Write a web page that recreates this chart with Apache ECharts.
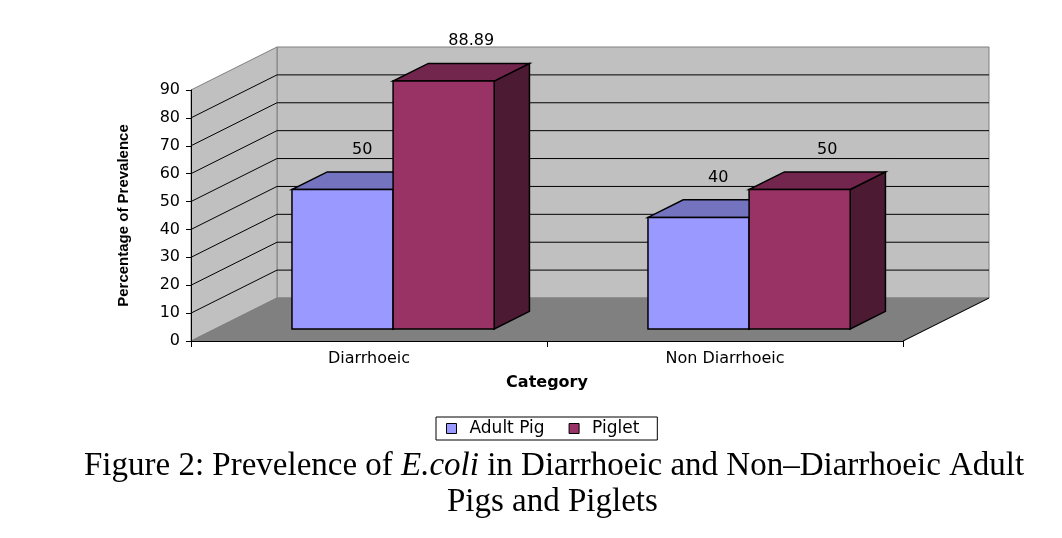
<!DOCTYPE html>
<html>
<head>
<meta charset="utf-8">
<script src="https://cdn.jsdelivr.net/npm/echarts@6/dist/echarts.min.js"></script>
<style>
  html, body { margin: 0; padding: 0; background: #fff; }
  #chart { width: 1062px; height: 538px; }
</style>
</head>
<body>
<div id="chart"></div>
<script>
// data
const categories = ['Diarrhoeic', 'Non Diarrhoeic'];
const adultPig = [50, 40];
const piglet = [88.89, 50];
const seriesNames = ['Adult Pig', 'Piglet'];
const yMin = 0, yMax = 90, yStep = 10;

// 3D look: depth of floor, and where the bars sit inside it
const DX = 86, DY = -43;
const F0 = 0.28, F1 = 0.69;
const faceColors = [
  ['#9999ff', '#7373bf', '#4d4d80'],   // front, top, side
  ['#993366', '#73264d', '#4d1a33']
];
const labelShift = [2, 10];
const SANS = '"DejaVu Sans"';

const chart = echarts.init(document.getElementById('chart'));

// back wall, side wall, floor and gridlines
function renderWalls(params, api) {
  const cs = params.coordSys;
  const left = cs.x, right = cs.x + cs.width;
  const y0 = api.coord([0, yMin])[1];
  const yTop = api.coord([0, yMax])[1];
  const kids = [];
  kids.push({ type: 'rect', shape: { x: left + DX, y: yTop + DY, width: right - left, height: y0 - yTop },
    style: { fill: '#c0c0c0', stroke: '#808080', lineWidth: 1 } });
  kids.push({ type: 'polygon', shape: { points: [[left, y0], [left, yTop], [left + DX, yTop + DY], [left + DX, y0 + DY]] },
    style: { fill: '#c0c0c0', stroke: '#808080', lineWidth: 1 } });
  for (let v = yMin + yStep; v < yMax; v += yStep) {
    const y = api.coord([0, v])[1];
    kids.push({ type: 'line', shape: { x1: left, y1: y, x2: left + DX, y2: y + DY }, style: { stroke: '#000', lineWidth: 1 } });
    kids.push({ type: 'line', shape: { x1: left + DX, y1: y + DY, x2: right + DX, y2: y + DY }, style: { stroke: '#000', lineWidth: 1 } });
  }
  kids.push({ type: 'polygon', shape: { points: [[left, y0], [right, y0], [right + DX, y0 + DY], [left + DX, y0 + DY]] },
    style: { fill: '#808080', stroke: '#808080', lineWidth: 1 } });
  kids.push({ type: 'line', shape: { x1: right, y1: y0, x2: right + DX, y2: y0 + DY }, style: { stroke: '#000', lineWidth: 1 } });
  return { type: 'group', children: kids };
}

// one 3D box per value
function barRenderer(idx) {
  return function (params, api) {
    const cat = api.value(0), val = api.value(1);
    const w = api.size([1, 0])[0] * 0.284;
    const base = api.coord([cat, 0]);
    const top = api.coord([cat, val]);
    const xl = base[0] - w + idx * w + F0 * DX;
    const xr = xl + w;
    const yb = base[1] + F0 * DY, yt = top[1] + F0 * DY;
    const bdx = (F1 - F0) * DX, bdy = (F1 - F0) * DY;
    const c = faceColors[idx];
    const edge = { stroke: '#000', lineWidth: 1.5, lineJoin: 'miter' };
    return {
      type: 'group',
      children: [
        { type: 'polygon', shape: { points: [[xr, yt], [xr + bdx, yt + bdy], [xr + bdx, yb + bdy], [xr, yb]] },
          style: Object.assign({ fill: c[2] }, edge) },
        { type: 'polygon', shape: { points: [[xl, yt], [xr, yt], [xr + bdx, yt + bdy], [xl + bdx, yt + bdy]] },
          style: Object.assign({ fill: c[1] }, edge) },
        { type: 'rect', shape: { x: xl, y: yt, width: w, height: yb - yt },
          style: Object.assign({ fill: c[0] }, edge) },
        { type: 'text', style: { text: String(val), x: (xl + xr) / 2 + bdx / 2 + labelShift[idx], y: yt + bdy / 2 - 31,
          align: 'center', verticalAlign: 'middle', font: '16px ' + SANS, fill: '#000' } }
      ]
    };
  };
}

const option = {
  animation: false,
  backgroundColor: '#fff',
  grid: { left: 191, right: 159, top: 90, bottom: 197 },
  xAxis: {
    type: 'category',
    data: categories,
    name: 'Category',
    nameLocation: 'middle',
    nameGap: 34,
    nameTextStyle: { fontFamily: 'DejaVu Sans', fontWeight: 'bold', fontSize: 16, color: '#000' },
    axisLine: { lineStyle: { color: '#000', width: 1 } },
    axisTick: { show: true, length: 6, lineStyle: { color: '#000' } },
    axisLabel: { margin: 10, fontFamily: 'DejaVu Sans', fontSize: 16, color: '#000' },
    splitLine: { show: false }
  },
  yAxis: {
    type: 'value',
    min: yMin, max: yMax, interval: yStep,
    name: 'Percentage of Prevalence',
    nameLocation: 'middle',
    nameRotate: 90,
    nameGap: 60,
    nameTextStyle: { fontFamily: 'Liberation Sans', fontWeight: 'bold', fontSize: 15, color: '#000' },
    axisLine: { show: true, lineStyle: { color: '#000', width: 1 } },
    axisTick: { show: true, length: 5, lineStyle: { color: '#000' } },
    axisLabel: { margin: 11, fontFamily: 'DejaVu Sans', fontSize: 16, color: '#000' },
    splitLine: { show: false }
  },
  legend: {
    data: seriesNames,
    left: 436, top: 417,
    icon: 'rect',
    itemWidth: 10, itemHeight: 10, itemGap: 24,
    borderColor: '#000', borderWidth: 1, borderRadius: 0,
    padding: [3, 18, 3, 10],
    itemStyle: { borderColor: '#000', borderWidth: 1 },
    textStyle: { fontFamily: 'DejaVu Sans', fontSize: 17, color: '#000', padding: [0, 0, 0, 8] }
  },
  graphic: [
    { type: 'text', left: 84, top: 450,
      style: {
        text: '{n|Figure 2: Prevelence of }{i|E.coli}{n| in Diarrhoeic and Non–Diarrhoeic Adult}',
        rich: {
          n: { fontFamily: 'Liberation Serif', fontSize: 33, fill: '#000' },
          i: { fontFamily: 'Liberation Serif', fontStyle: 'italic', fontSize: 33, fill: '#000' }
        }
      } },
    { type: 'text', left: 447, top: 486,
      style: { text: 'Pigs and Piglets', font: '33px "Liberation Serif"', fill: '#000' } }
  ],
  series: [
    { type: 'custom', name: 'walls', z: -1, silent: true, renderItem: renderWalls, data: [[0, 0]] },
    { type: 'custom', name: seriesNames[0], itemStyle: { color: faceColors[0][0] }, renderItem: barRenderer(0),
      data: adultPig.map((v, i) => [i, v]) },
    { type: 'custom', name: seriesNames[1], itemStyle: { color: faceColors[1][0] }, renderItem: barRenderer(1),
      data: piglet.map((v, i) => [i, v]) }
  ]
};

chart.setOption(option);
</script>
</body>
</html>
